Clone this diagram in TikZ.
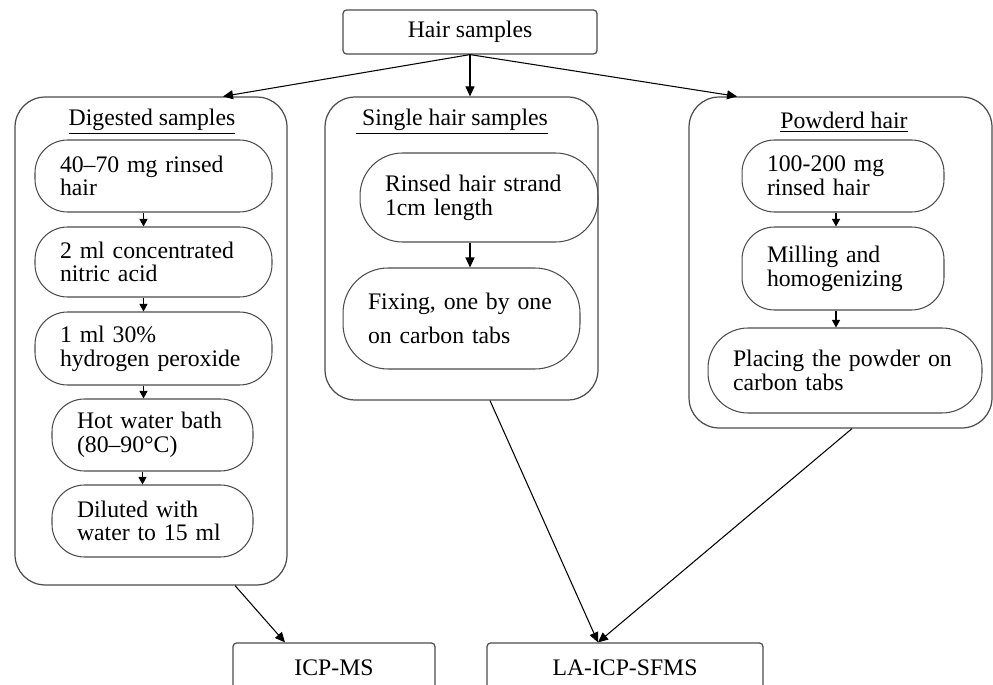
\documentclass[tikz,border=0pt]{standalone}
\usepackage{fontspec}
\setmainfont{Liberation Serif}
\usetikzlibrary{arrows.meta, positioning, calc}
\tikzset{
  % Flowchart styles
  topbox/.style={rectangle, rounded corners=2pt, draw=black!70, line width=0.7pt, minimum height=0.88cm, inner sep=0pt},
  groupbox/.style={rectangle, rounded corners=0.6cm, draw=black!70, line width=0.7pt, inner sep=0pt},
  stepbox/.style={rectangle, rounded corners=0.65cm, draw=black!70, line width=0.6pt, text width=#1, inner xsep=0.5cm, inner ysep=0pt, align=left},
  stepbox/.default={3.74cm},
  arrow/.style={-{Triangle[length=2mm, width=1.8mm]}, line width=0.6pt},
  smallarrow/.style={-{Triangle[length=1.5mm, width=1.6mm]}, line width=0.6pt},
}

\begin{document}
\begin{tikzpicture}[x=0.02cm, y=-0.02cm, font=\fontsize{13.5}{13.5}\selectfont]
    \useasboundingbox (0,0) rectangle (993,685);
    \clip (0,0) rectangle (993,685);

    % Source box
    \node[topbox, minimum width=5.08cm] (hair) at (470,32) {Hair samples};

    % Groups
    \node[groupbox, minimum width=5.44cm, minimum height=9.76cm] (dig) at (151,341) {};
    \node[groupbox, minimum width=5.46cm, minimum height=6.06cm] (sng) at (461.5,248.5) {};
    \node[groupbox, minimum width=6.06cm, minimum height=6.62cm] (pow) at (840.5,262.5) {};

    \node (digtitle) at (152,122) {\underline{Digested samples}};
    \node (sngtitle) at (452,122) {\underline{\ Single hair samples}};
    \node (powtitle) at (844,122) {\underline{Powderd hair}};

    % Digested samples
    \node[stepbox, minimum height=1.44cm] (d1) at (153.5,176) {40--70 mg rinsed\\hair};
    \node[stepbox, minimum height=1.40cm] (d2) at (153.5,262) {2 ml concentrated\\nitric acid};
    \node[stepbox, minimum height=1.46cm] (d3) at (153.5,348.5) {1 ml 30\%\\hydrogen peroxide};
    \node[stepbox=3.02cm, minimum height=1.44cm] (d4) at (152.5,435) {Hot water bath\\(80--90°C)};
    \node[stepbox=3.02cm, minimum height=1.44cm] (d5) at (152.5,521) {Diluted with\\water to 15 ml};

    % Single hair samples
    \node[stepbox=3.76cm, minimum height=1.78cm, rounded corners=0.85cm] (s1) at (479,197.5) {Rinsed hair strand\\1cm length\\[4pt]};
    \node[stepbox=3.74cm, minimum height=2.02cm, rounded corners=0.9cm] (s2) at (461.5,318.5) {Fixing, one by one\\[6pt]on carbon tabs\\[4pt]};

    % Powdered hair
    \node[stepbox=3.04cm, minimum height=1.44cm] (p1) at (843,176) {100-200 mg\\rinsed hair};
    \node[stepbox=3.04cm, minimum height=1.66cm] (p2) at (843,268.5) {Milling and\\homogenizing};
    \node[stepbox=4.48cm, minimum height=1.70cm, rounded corners=0.8cm] (p3) at (845,370.5) {Placing the powder on\\carbon tabs\\[4pt]};

    % Instruments
    \node[topbox, minimum width=4.04cm, minimum height=1.0cm] (icp) at (334,668) {ICP-MS};
    \node[topbox, minimum width=5.52cm, minimum height=1.0cm] (la) at (625,668) {LA-ICP-SFMS};

    % Arrows
    \draw[arrow] (hair.south) -- ([xshift=1.44cm]dig.north);
    \draw[arrow] (hair.south) -- (hair.south |- sng.north);
    \draw[arrow] (hair.south) -- ([xshift=-2.07cm]pow.north);

    \foreach \a/\b in {d1/d2, d2/d3, d3/d4, d4/d5}
      \draw[smallarrow] ([xshift=-0.2cm]\a.south) -- ([xshift=-0.2cm]\a.south |- \b.north);
    \foreach \a/\b in {p1/p2, p2/p3}
      \draw[smallarrow] ([xshift=-0.14cm]\a.south) -- ([xshift=-0.14cm]\a.south |- \b.north);
    \draw[arrow] (hair.south |- s1.south) -- (hair.south |- s2.north);

    \draw[arrow] ([xshift=1.68cm]dig.south) -- ([xshift=-0.98cm]icp.north);
    \draw[arrow] ([xshift=0.57cm]sng.south) -- ([xshift=-0.54cm]la.north);
    \draw[arrow] ([xshift=0.23cm]pow.south) -- ([xshift=-0.54cm]la.north);
  \end{tikzpicture}
\end{document}
